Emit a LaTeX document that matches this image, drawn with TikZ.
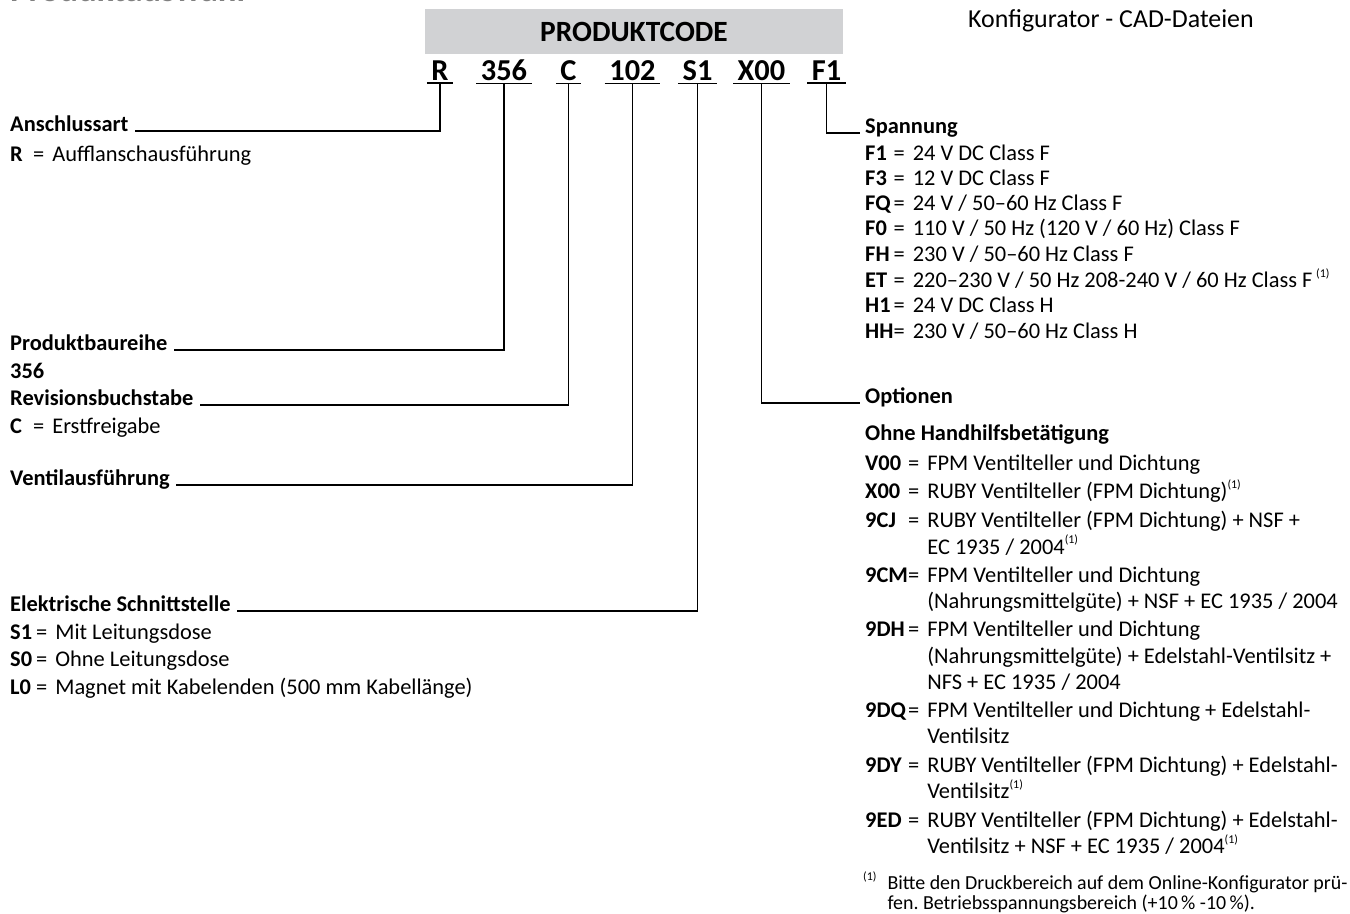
\documentclass[tikz,border=0pt]{standalone}
\usepackage{fontspec}
\setmainfont{Carlito}
\frenchspacing

\definecolor{codegray}{RGB}{209,210,212}
\definecolor{titlegray}{RGB}{128,128,128}
\newcommand{\bodysize}{\fontsize{22.5}{26.2}\selectfont}
\newcommand{\lbl}[2][23bp]{\makebox[#1][l]{\bfseries #2}}
\newcommand{\fnmark}{\raisebox{0.45em}{\fontsize{12}{12}\selectfont(1)}}

\begin{document}
\begin{tikzpicture}[x=1bp, y=-1bp,
    code/.style={font=\fontsize{30.5}{31}\selectfont\bfseries, inner xsep=4.5bp, inner ysep=3bp, anchor=base},
    head/.style={font=\bodysize\bfseries, inner sep=0pt, anchor=base west},
    list/.style={font=\bodysize, inner sep=0pt, anchor=base west},
    lead/.style={line width=1.5bp}]

    \useasboundingbox (0, 0) rectangle (1350, 913);
    \clip (0, 0) rectangle (1350, 913);

    \node[anchor=base west, inner sep=0pt, text=titlegray, font=\fontsize{35}{36}\selectfont\bfseries] (titel) at(10, 1.5){Produktauswahl};
    \node[anchor=base west, inner sep=0pt, font=\fontsize{26}{27}\selectfont] (cad) at(968, 27){Konfigurator - CAD-Dateien};

    %%code
    \node[fill=codegray, minimum width=418bp, minimum height=45bp, font=\fontsize{29.5}{30}\selectfont\bfseries] (pc) at(634, 31.5){PRODUKTCODE};
    \node[code] (cR) at(440, 80){R};
    \node[code] (c356) at(504, 80){356};
    \node[code] (cC) at(568.5, 80){C};
    \node[code] (c102) at(632.5, 80){102};
    \node[code] (cS1) at(697.5, 80){S1};
    \node[code] (cX00) at(761.5, 80){X00};
    \node[code] (cF1) at(826.5, 80){F1};
    \foreach \c in {cR, c356, cC, c102, cS1, cX00, cF1}
        \draw[lead] (\c.south west) to (\c.south east);

    %%left
    \node[head] (anschluss) at(10, 131){Anschlussart};
    \node[list] (anschlussList) at(10, 161){\lbl{R}=\hspace{8bp}Aufflanschausführung};

    \node[head] (baureihe) at(10, 350){Produktbaureihe};
    \node[head] (baureiheList) at(10, 378){356};

    \node[head] (revision) at(10, 405){Revisionsbuchstabe};
    \node[list] (revisionList) at(10, 433){\lbl{C}=\hspace{8bp}Erstfreigabe};

    \node[head] (ventil) at(10, 485){Ventilausführung};

    \node[head] (schnitt) at(10, 611){Elektrische Schnittstelle};
    \node[list, font=\fontsize{22.5}{28}\selectfont] (schnittList) at(10, 639){\begin{tabular}[t]{@{}l@{}l@{\hspace{8bp}}l@{}}
        \lbl[26bp]{S1} & = & Mit Leitungsdose\\
        \lbl[26bp]{S0} & = & Ohne Leitungsdose\\
        \lbl[26bp]{L0} & = & Magnet mit Kabelenden (500 mm Kabellänge)
    \end{tabular}};

    \draw[lead] (cR.south) |- ([xshift=6bp]anschluss.base east);
    \draw[lead] (c356.south) |- ([xshift=6bp]baureihe.base east);
    \draw[lead] (cC.south) |- ([xshift=6bp]revision.base east);
    \draw[lead] (c102.south) |- ([xshift=6bp]ventil.base east);
    \draw[lead] (cS1.south) |- ([xshift=6bp]schnitt.base east);

    %%right
    \node[head] (spannung) at(865, 133){Spannung};
    \node[list, font=\fontsize{22.5}{25.4}\selectfont] (spannungList) at(865, 160){\begin{tabular}[t]{@{}l@{}l@{\hspace{8bp}}l@{}}
        \lbl[28.5bp]{F1} & = & 24 V DC Class F\\
        \lbl[28.5bp]{F3} & = & 12 V DC Class F\\
        \lbl[28.5bp]{FQ} & = & 24 V / 50–60 Hz Class F\\
        \lbl[28.5bp]{F0} & = & 110 V / 50 Hz (120 V / 60 Hz) Class F\\
        \lbl[28.5bp]{FH} & = & 230 V / 50–60 Hz Class F\\
        \lbl[28.5bp]{ET} & = & 220–230 V / 50 Hz 208-240 V / 60 Hz Class F\,\fnmark\\
        \lbl[28.5bp]{H1} & = & 24 V DC Class H\\
        \lbl[28.5bp]{HH} & = & 230 V / 50–60 Hz Class H
    \end{tabular}};

    \node[head] (optionen) at(865, 403){Optionen};
    \node[head] (ohne) at(865, 440){Ohne Handhilfsbetätigung};
    \node[list] (optionenList) at(865, 470){\begin{tabular}[t]{@{}l@{}l@{\hspace{8bp}}l@{}}
        \lbl[43bp]{V00} & = & FPM Ventilteller und Dichtung\\[2.3bp]
        \lbl[43bp]{X00} & = & RUBY Ventilteller (FPM Dichtung)\fnmark\\[2.3bp]
        \lbl[43bp]{9CJ} & = & RUBY Ventilteller (FPM Dichtung) + NSF +\\
        & & EC 1935 / 2004\fnmark\\[2.3bp]
        \lbl[43bp]{9CM} & = & FPM Ventilteller und Dichtung\\
        & & (Nahrungsmittelgüte) + NSF + EC 1935 / 2004\\[2.3bp]
        \lbl[43bp]{9DH} & = & FPM Ventilteller und Dichtung\\
        & & (Nahrungsmittelgüte) + Edelstahl-Ventilsitz +\\
        & & NFS + EC 1935 / 2004\\[2.3bp]
        \lbl[43bp]{9DQ} & = & FPM Ventilteller und Dichtung + Edelstahl-\\
        & & Ventilsitz\\[2.3bp]
        \lbl[43bp]{9DY} & = & RUBY Ventilteller (FPM Dichtung) + Edelstahl-\\
        & & Ventilsitz\fnmark\\[2.3bp]
        \lbl[43bp]{9ED} & = & RUBY Ventilteller (FPM Dichtung) + Edelstahl-\\
        & & Ventilsitz + NSF + EC 1935 / 2004\fnmark
    \end{tabular}};

    \node[list, font=\fontsize{20}{21}\selectfont] (fussnote) at(863, 889){\begin{tabular}[t]{@{}l@{\hspace{11bp}}l@{}}
        \raisebox{0.45em}{\fontsize{12}{12}\selectfont(1)} & Bitte den Druckbereich auf dem Online-Konfigurator prü-\\
        & fen. Betriebsspannungsbereich (+10\,\% -10\,\%).
    \end{tabular}};

    \draw[lead] (cF1.south) |- ([xshift=-5bp]spannung.base west);
    \draw[lead] (cX00.south) |- ([xshift=-5bp]optionen.base west);
\end{tikzpicture}
\end{document}
